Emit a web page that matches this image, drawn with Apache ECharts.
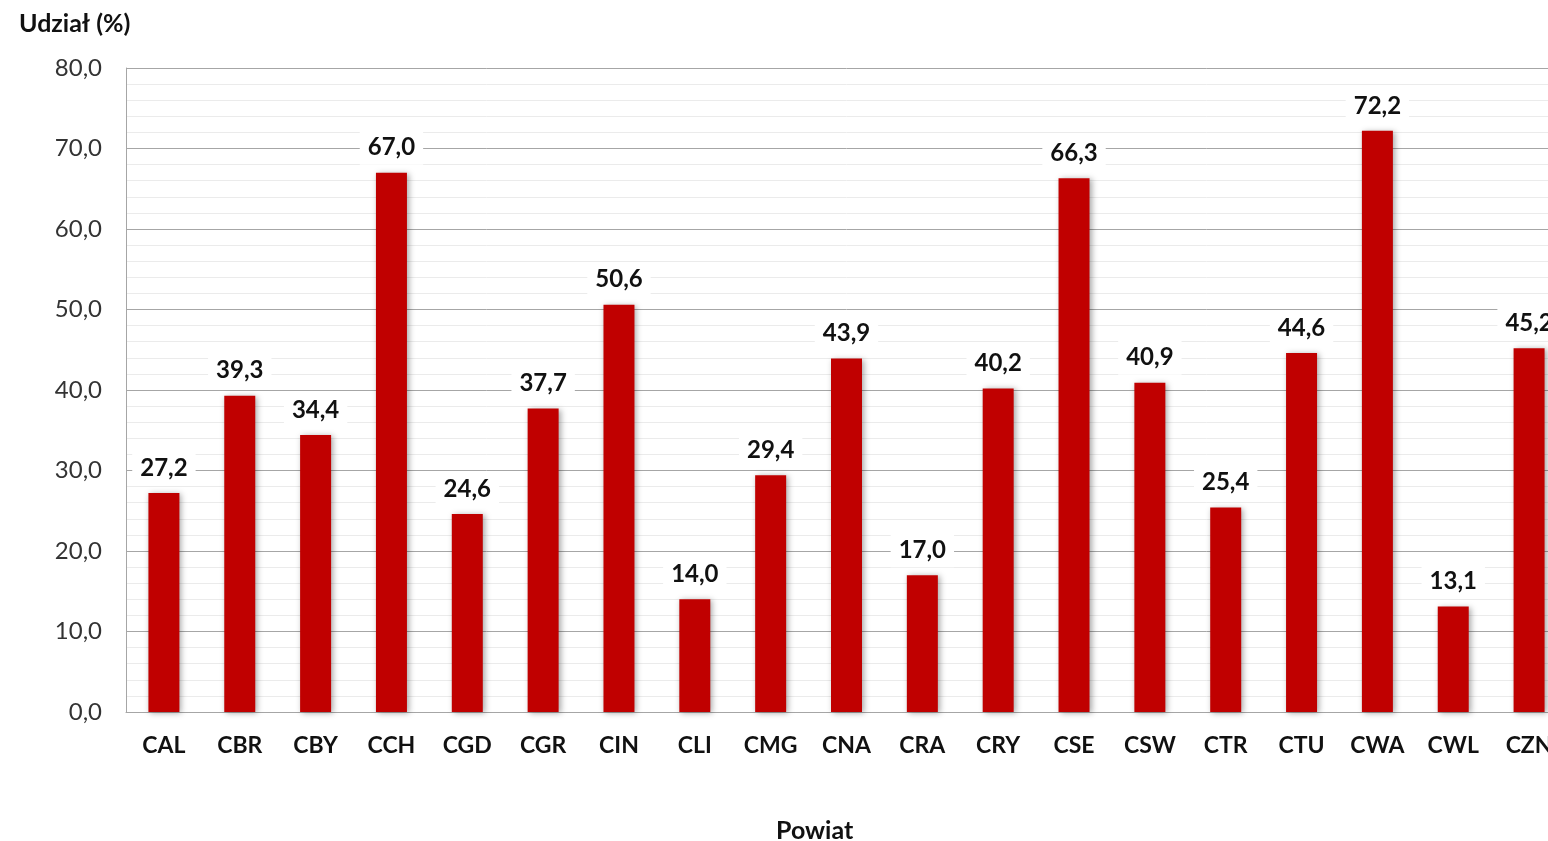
<!DOCTYPE html>
<html>
<head>
    <meta charset="utf-8">
    <title>Udział (%) wg powiatu</title>
    <style>
        html, body { margin: 0; padding: 0; overflow: hidden; background: #fff; }
        #main { width: 1570px; height: 841px; }
    </style>
</head>
<body>
    <div id="main"></div>
    <script src="https://cdn.jsdelivr.net/npm/echarts@6/dist/echarts.min.js"></script>
    <script>
    // dane
    var powiaty = ['CAL', 'CBR', 'CBY', 'CCH', 'CGD', 'CGR', 'CIN', 'CLI', 'CMG', 'CNA',
                   'CRA', 'CRY', 'CSE', 'CSW', 'CTR', 'CTU', 'CWA', 'CWL', 'CZN'];
    var udzial = [27.2, 39.3, 34.4, 67.0, 24.6, 37.7, 50.6, 14.0, 29.4, 43.9,
                  17.0, 40.2, 66.3, 40.9, 25.4, 44.6, 72.2, 13.1, 45.2];
    var yTicks = [0, 10, 20, 30, 40, 50, 60, 70, 80];

    var font = 'Lato, "Open Sans", sans-serif';

    function fmt(v) {
        return Number(v).toFixed(1).replace('.', ',');
    }

    var myChart = echarts.init(document.getElementById('main'));
    var option = {
        animation: false,
        title: {
            text: 'Udział (%)',
            left: 14,
            top: 6,
            textStyle: { fontFamily: font, fontSize: 25, fontWeight: 'bold', color: '#111' }
        },
        graphic: [{
            type: 'text',
            left: 776,
            top: 818,
            style: { text: 'Powiat', font: 'bold 25px ' + font, fill: '#111' }
        }],
        grid: { left: 126, right: 3, top: 68, bottom: 129 },
        xAxis: {
            type: 'category',
            data: powiaty,
            axisLine: { show: true, lineStyle: { color: '#a6a6a6', width: 1 } },
            axisTick: { show: false },
            axisLabel: {
                margin: 22,
                fontFamily: font, fontSize: 23, fontWeight: 'bold', color: '#111'
            }
        },
        yAxis: {
            type: 'value',
            min: yTicks[0],
            max: yTicks[yTicks.length - 1],
            interval: 10,
            axisLine: { show: true, lineStyle: { color: '#a6a6a6', width: 1 } },
            axisTick: { show: false },
            axisLabel: {
                margin: 24,
                fontFamily: font, fontSize: 24, color: '#333',
                formatter: fmt
            },
            splitLine: { show: true, lineStyle: { color: '#a6a6a6', width: 1 } },
            minorTick: { show: false, splitNumber: 5 },
            minorSplitLine: { show: true, lineStyle: { color: '#ebebeb', width: 1 } }
        },
        series: [{
            type: 'bar',
            data: udzial,
            barWidth: 31,
            itemStyle: {
                color: '#c00000',
                shadowColor: 'rgba(0,0,0,0.35)',
                shadowBlur: 6,
                shadowOffsetX: 2,
                shadowOffsetY: 1
            },
            label: {
                show: true,
                position: 'top',
                distance: 8,
                backgroundColor: '#fff',
                padding: [5, 8],
                fontFamily: font, fontSize: 24, fontWeight: 'bold', color: '#111',
                formatter: function (p) { return fmt(p.value); }
            }
        }]
    };
    myChart.setOption(option);
    </script>
</body>
</html>
